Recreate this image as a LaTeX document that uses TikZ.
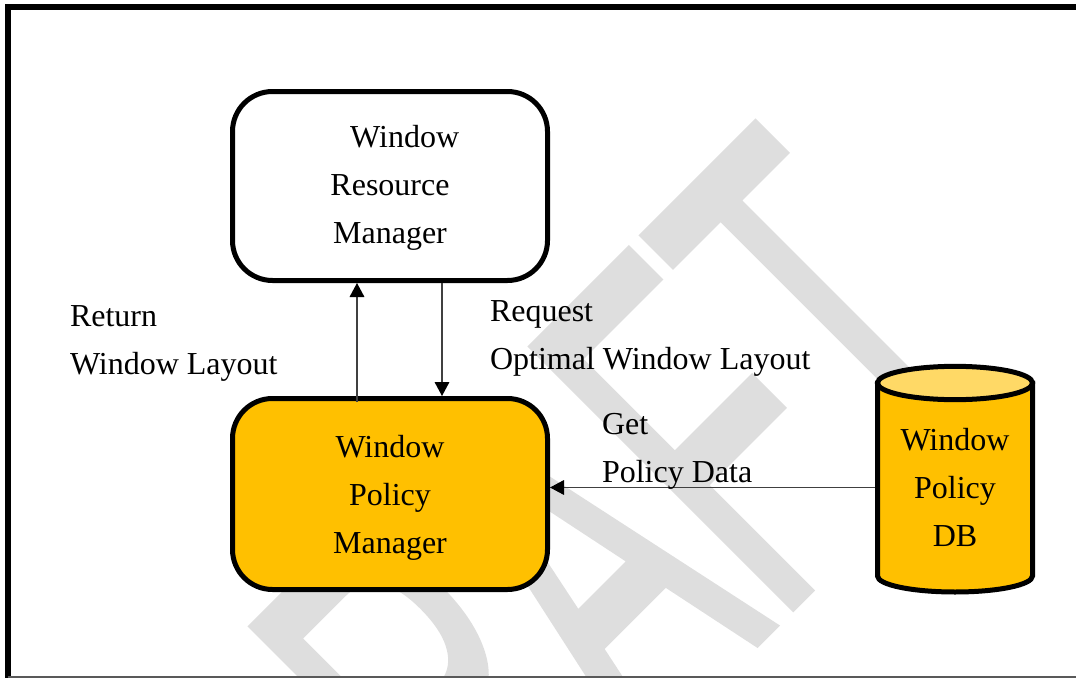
\documentclass[tikz,border=0pt]{standalone}
\usepackage{fontspec}
\setmainfont{Liberation Serif}
\newfontfamily\wmfont[FakeBold=1.5]{Liberation Sans}
\usetikzlibrary{arrows.meta}
\definecolor{boxorange}{HTML}{FFC000}
\definecolor{dbtop}{HTML}{FFD966}
\definecolor{wmgray}{HTML}{DEDEDE}
\definecolor{arrowgray}{HTML}{404040}
\begin{document}
\begin{tikzpicture}[x=0.75pt, y=-0.75pt,
  bigfont/.style={font=\fontsize{24pt}{36pt}\selectfont},
  lbl/.style={bigfont, inner sep=0pt, outer sep=0pt, align=left, anchor=north west},
  mgr/.style={bigfont, draw=black, line width=3.75pt, rounded corners=30pt,
              minimum width=236.25pt, align=center},
  arr/.style={draw=arrowgray, line width=0.9pt,
              -{Triangle[length=10.5pt, width=11pt, color=black]}},
  cyl/.style={draw=black, line width=3.75pt}]
\useasboundingbox (0,0) rectangle (1076,678);
% watermark
\begin{scope}
  \clip (0,0) rectangle (1076,678);
  \node[anchor=base west, inner sep=0pt, outer sep=0pt, rotate=45, text=wmgray,
        font=\wmfont\fontsize{213.75pt}{213.75pt}\selectfont] (wm) at (350,1050)
        {\scalebox{1}[1.877]{DRAFT}};
\end{scope}
% frame
\draw[line width=4.5pt] (7.5,678) -- (7.5,7) -- (1076,7);
\draw[line width=1.5pt, black!65] (7.5,677) -- (1076,677);
% cylinder (database)
\draw[cyl, fill=boxorange] (877.5,383) -- (877.5,576)
   arc[start angle=180, end angle=360, x radius=58.125pt, y radius=12pt]
   -- (1032.5,383) -- cycle;
\draw[cyl, fill=dbtop] (955,383) ellipse [x radius=58.125pt, y radius=12.5pt];
\node[bigfont, inner sep=0pt, outer sep=0pt, align=center, minimum width=120pt] (db)
   at (955,487.5) {Window\\Policy\\DB};
% managers
\node[mgr, fill=white, minimum height=141.75pt] (wrm) at (390,186)
   {\hspace*{22pt}\rule{0pt}{19.5pt}Window\\Resource\\Manager};
\node[mgr, fill=boxorange, minimum height=143.25pt] (wpm) at (390,494)
   {\rule{0pt}{23pt}Window\\Policy\\Manager};
% connectors
\draw[arr] ([xshift=-24.75pt, yshift=-4.5pt]wpm.north) -- ([xshift=-24.75pt]wrm.south);
\draw[arr] ([xshift=39pt]wrm.south) -- ([xshift=39pt]wpm.north);
\draw[arr] (db.west) -- (db.west -| wpm.east);
% labels
\node[lbl] (ret) at (70,305.8) {Return\\Window Layout};
\node[lbl] (req) at (490,300.8) {Request\\Optimal Window Layout};
\node[lbl] (get) at (602,413) {Get\\Policy Data};
\end{tikzpicture}
\end{document}
